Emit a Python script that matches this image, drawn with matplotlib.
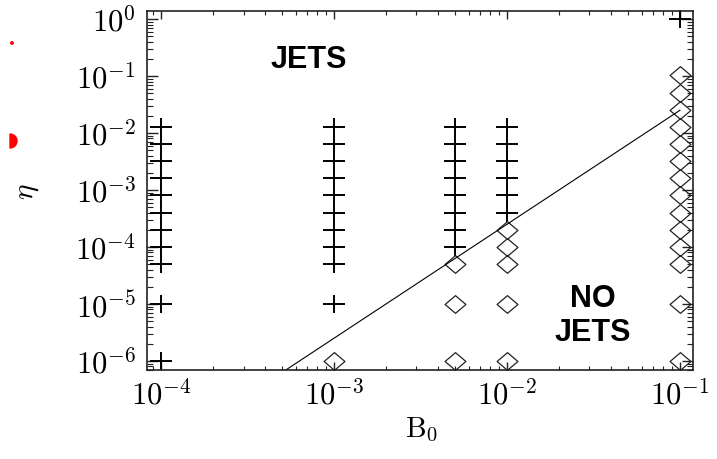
import matplotlib
matplotlib.use("Agg")
import matplotlib.pyplot as plt
from matplotlib.path import Path
from matplotlib.patches import Wedge, Circle
from matplotlib.ticker import LogLocator, FixedLocator, NullFormatter

plt.rcParams['mathtext.fontset'] = 'cm'

# runs that produced jets (plus) and no jets (diamond), one list per B0
b_cols = [1e-4, 1e-3, 5e-3, 1e-2, 1e-1]
jets_eta = [
    [1.28e-2, 6.4e-3, 3.2e-3, 1.6e-3, 8e-4, 4e-4, 2e-4, 1e-4, 5e-5, 1e-5, 1e-6],
    [1.28e-2, 6.4e-3, 3.2e-3, 1.6e-3, 8e-4, 4e-4, 2e-4, 1e-4, 5e-5, 1e-5],
    [1.28e-2, 6.4e-3, 3.2e-3, 1.6e-3, 8e-4, 4e-4, 2e-4, 1e-4],
    [1.28e-2, 6.4e-3, 3.2e-3, 1.6e-3, 8e-4, 4e-4],
    [1.0],
]
nojets_eta = [
    [],
    [1e-6],
    [5e-5, 1e-5, 1e-6],
    [2e-4, 1e-4, 5e-5, 1e-5, 1e-6],
    [1.024e-1, 5.12e-2, 2.56e-2, 1.28e-2, 6.4e-3, 3.2e-3, 1.6e-3, 8e-4,
     4e-4, 2e-4, 1e-4, 5e-5, 1e-5, 1e-6],
]

# dividing line eta ~ B0^2
line_b = [1e-4, 1e-1]
line_eta = [2.5e-8, 2.5e-2]

x_ticks = [1e-4, 1e-3, 1e-2, 1e-1]
x_labels = [r'$10^{-4}$', r'$10^{-3}$', r'$10^{-2}$', r'$10^{-1}$']
y_ticks = [1e-6, 1e-5, 1e-4, 1e-3, 1e-2, 1e-1, 1e0]
y_labels = [r'$10^{-6}$', r'$10^{-5}$', r'$10^{-4}$', r'$10^{-3}$',
            r'$10^{-2}$', r'$10^{-1}$', r'$10^{0}$']

# IDL-looking markers, slightly wider than tall
plus = Path([(-1.2, 0), (1.2, 0), (0, -1.0), (0, 1.0)],
            [Path.MOVETO, Path.LINETO, Path.MOVETO, Path.LINETO])
diamond = Path([(0, 0.85), (1.0, 0), (0, -0.85), (-1.0, 0), (0, 0.85)],
               [Path.MOVETO, Path.LINETO, Path.LINETO, Path.LINETO, Path.CLOSEPOLY])

fig = plt.figure(figsize=(7.17, 4.59), dpi=100)
ax = fig.add_axes([0.205, 0.194, 0.7615, 0.782])

for b, etas in zip(b_cols, jets_eta):
    ax.plot([b] * len(etas), etas, linestyle='none', marker=plus,
            markersize=16, markeredgewidth=1.4, color='black', clip_on=False)
for b, etas in zip(b_cols, nojets_eta):
    if etas:
        ax.plot([b] * len(etas), etas, linestyle='none', marker=diamond,
                markersize=15, markeredgewidth=0.9, markerfacecolor='none',
                markeredgecolor='#222222', clip_on=False)

ax.plot(line_b, line_eta, color='black', linewidth=0.8)

ax.set_xscale('log')
ax.set_yscale('log')
ax.set_xlim(8.3e-5, 0.119)
ax.set_ylim(6.95e-7, 1.38)

ax.xaxis.set_major_locator(FixedLocator(x_ticks))
ax.set_xticklabels(x_labels)
ax.yaxis.set_major_locator(FixedLocator(y_ticks))
ax.set_yticklabels(y_labels)
ax.xaxis.set_minor_locator(LogLocator(base=10, subs=range(2, 10), numticks=20))
ax.yaxis.set_minor_locator(LogLocator(base=10, subs=range(2, 10), numticks=20))
ax.xaxis.set_minor_formatter(NullFormatter())
ax.yaxis.set_minor_formatter(NullFormatter())

ax.tick_params(which='both', direction='in', top=True, right=True,
               color='#222222', labelsize=22)
ax.tick_params(axis='x', which='major', length=6, width=1.0, pad=7)
ax.tick_params(axis='x', which='minor', length=3, width=0.8)
ax.tick_params(axis='y', which='major', length=8, width=1.0, pad=8)
ax.tick_params(axis='y', which='minor', length=4.5, width=0.8)
for s in ax.spines.values():
    s.set_linewidth(1.2)
    s.set_color('#222222')

fig.text(27 / 717, 1 - 192 / 459, r'$\eta$', rotation=90, fontsize=21,
         ha='center', va='center')
fig.text(422 / 717, 1 - 430 / 459, r'$\mathrm{B}_0$', fontsize=21,
         ha='center', va='center')

fig.text(309 / 717, 1 - 60 / 459, 'JETS', fontsize=22, fontweight='bold',
         family='Liberation Sans', ha='center', va='center')
fig.text(593 / 717, 1 - 316 / 459, 'NO\nJETS', fontsize=22, fontweight='bold',
         family='Liberation Sans', ha='center', va='center', linespacing=1.15)

# red scraps at the left edge of the original scan
fig.add_artist(Wedge((0.10, 3.18), 0.07, -90, 90, color='red',
                     transform=fig.dpi_scale_trans))
fig.add_artist(Circle((0.12, 4.16), 0.012, color='red',
                      transform=fig.dpi_scale_trans))

fig.savefig('out.png', dpi=100)
